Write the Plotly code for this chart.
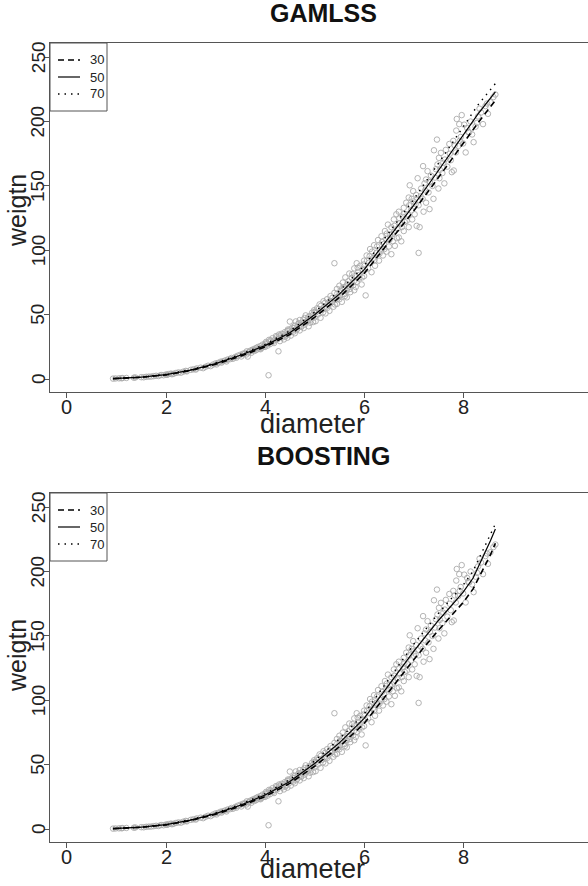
import plotly.graph_objects as go

# ---------------- data ----------------
diameter = [
    0.93, 0.98, 1.05, 1.10, 1.12, 1.20, 1.35, 1.38, 1.50, 1.55, 1.60, 1.65, 1.70, 1.75, 1.80, 1.85, 1.90, 1.95, 2.00, 2.02,
    2.05, 2.10, 2.12, 2.15, 2.20, 2.25, 2.30, 2.35, 2.40, 2.42, 2.50, 2.55, 2.60, 2.62, 2.70, 2.75, 2.80, 2.85, 2.90, 2.95, 3.00, 3.02,
    3.05, 3.10, 3.12, 3.15, 3.20, 3.22, 3.25, 3.30, 3.32, 3.35, 3.40, 3.42, 3.45, 3.50, 3.52, 3.55, 3.60, 3.62, 3.63, 3.65,
    3.68, 3.70, 3.72, 3.75, 3.78, 3.80, 3.82, 3.85, 3.88, 3.90, 3.92, 3.95, 3.97, 4.00, 4.00,
    4.02, 4.05, 4.07, 4.08, 4.10, 4.12, 4.15, 4.18, 4.20, 4.22, 4.25, 4.27, 4.28, 4.30, 4.33, 4.35, 4.38, 4.40, 4.42, 4.45,
    4.45, 4.48, 4.50, 4.50, 4.52, 4.55, 4.57, 4.60, 4.60, 4.62, 4.65, 4.67, 4.70, 4.70, 4.72, 4.75, 4.78, 4.80, 4.80, 4.82,
    4.85, 4.88, 4.90, 4.92, 4.95, 4.97, 5.00, 5.00,
    5.02, 5.05, 5.07, 5.10, 5.12, 5.15, 5.18, 5.20, 5.22, 5.25, 5.28, 5.30, 5.32, 5.35, 5.38, 5.40, 5.40, 5.42, 5.45, 5.45,
    5.48, 5.50, 5.50, 5.52, 5.55, 5.57, 5.60, 5.60, 5.62, 5.65, 5.65, 5.68, 5.70, 5.70, 5.72, 5.75, 5.78, 5.80, 5.80, 5.82,
    5.85, 5.85, 5.88, 5.90, 5.92, 5.95, 5.97, 6.00, 6.00, 6.03,
    6.05, 6.08, 6.10, 6.12, 6.15, 6.18, 6.20, 6.22, 6.25, 6.28, 6.30, 6.32, 6.35, 6.38, 6.40, 6.42, 6.45, 6.45, 6.48, 6.50,
    6.52, 6.55, 6.55, 6.58, 6.60, 6.60, 6.62, 6.65, 6.68, 6.70, 6.70, 6.72, 6.75, 6.78, 6.80, 6.80, 6.82, 6.85, 6.88, 6.90,
    6.90, 6.92, 6.95, 6.97, 6.99, 7.00,
    7.02, 7.05, 7.06, 7.08, 7.10, 7.10, 7.12, 7.15, 7.18, 7.19, 7.20, 7.22, 7.25, 7.25, 7.28, 7.30, 7.32, 7.35, 7.38, 7.40,
    7.41, 7.45, 7.47, 7.48, 7.50, 7.51, 7.52, 7.55, 7.58, 7.60, 7.62, 7.65, 7.68, 7.72, 7.75, 7.77, 7.80, 7.81, 7.85, 7.86,
    7.87, 7.90, 7.92, 7.95, 7.97, 8.00, 8.02, 8.05, 8.10, 8.12, 8.15, 8.21, 8.25, 8.30, 8.36, 8.40, 8.45, 8.50, 8.55, 8.61, 8.65,
    3.58, 3.66, 3.74, 3.83, 3.91, 3.99,
    4.03, 4.11, 4.16, 4.23, 4.31, 4.36, 4.41, 4.46, 4.53, 4.58, 4.63, 4.68, 4.73, 4.77, 4.83, 4.87, 4.91, 4.96, 4.99,
    5.03, 5.08, 5.13, 5.17, 5.21, 5.26, 5.31, 5.36, 5.41, 5.46, 5.51, 5.56, 5.61, 5.66, 5.71, 5.76, 5.79, 5.83, 5.87, 5.91, 5.96, 5.99,
    6.02, 6.06, 6.11, 6.16, 6.21, 6.26, 6.31, 6.36, 6.41, 6.46, 6.51, 6.56, 6.61, 6.66, 6.71, 6.76, 6.81, 6.86, 6.91, 6.96,
    7.04, 7.14, 7.23, 7.33, 7.43, 7.53, 7.63, 7.73, 7.83, 7.93, 8.08, 8.18, 8.28, 8.33, 8.48,
]
weight = [
    0.4, 0.5, 0.6, 0.7, 0.8, 0.9, 1.1, 1.3, 1.5, 1.4, 1.8, 1.9, 2.0, 2.3, 2.6, 2.4, 3.2, 3.0, 3.6, 3.3,
    3.9, 4.3, 3.8, 4.1, 4.8, 5.2, 5.0, 5.8, 6.4, 6.0, 7.2, 7.6, 7.4, 8.3, 8.9, 8.5, 9.6, 10.4, 10.1, 11.3, 12.2, 11.4,
    12.6, 13.5, 12.8, 13.9, 14.6, 13.7, 15.3, 15.6, 16.4, 15.8, 17.3, 16.6, 18.2, 18.9, 17.6, 19.7, 20.3, 19.1, 21.6, 17.5,
    21.0, 22.1, 20.4, 23.0, 21.8, 23.8, 22.5, 24.9, 23.5, 25.6, 24.0, 26.8, 25.1, 27.5, 25.0,
    28.9, 26.0, 3.0, 30.5, 27.2, 29.4, 31.8, 28.0, 30.6, 33.4, 31.0, 21.6, 34.6, 29.5, 35.2, 32.4, 30.8, 36.5, 34.0, 37.4,
    32.2, 35.5, 44.7, 38.6, 33.8, 40.0, 36.8, 41.5, 35.6, 44.8, 39.0, 42.6, 37.8, 45.9, 41.2, 44.0, 39.6, 47.5, 42.3, 49.5,
    45.0, 41.0, 49.0, 46.2, 51.6, 44.3, 52.2, 48.0,
    45.0, 55.0, 50.2, 58.0, 47.6, 53.8, 60.5, 56.0, 51.0, 62.0, 57.5, 53.0, 64.5, 59.8, 56.2, 90.0, 67.0, 61.5, 70.0, 58.4,
    64.0, 72.5, 62.0, 68.4, 60.0, 75.0, 66.0, 71.5, 79.0, 69.0, 63.5, 76.0, 82.0, 72.0, 67.5, 78.5, 73.0, 86.0, 69.0, 80.0,
    75.5, 90.0, 83.0, 78.0, 88.0, 73.5, 85.0, 92.0, 80.0, 65.0,
    96.0, 86.0, 90.5, 101.0, 83.0, 94.0, 104.0, 88.0, 98.0, 108.0, 92.0, 100.5, 111.0, 96.0, 105.0, 115.0, 99.0, 108.5, 120.0, 103.0,
    112.0, 118.0, 97.0, 107.0, 124.0, 114.0, 103.5, 128.0, 117.0, 110.0, 130.0, 121.0, 107.0, 126.0, 133.0, 115.0, 122.0, 137.0, 128.0, 141.0,
    118.0, 150.5, 131.0, 124.0, 146.0, 138.0,
    128.0, 143.0, 119.0, 156.0, 135.0, 98.0, 118.0, 148.0, 140.0, 165.4, 130.0, 152.0, 155.0, 137.0, 161.5, 145.0, 132.0, 158.0, 150.0, 140.0,
    177.7, 163.0, 186.0, 166.7, 148.0, 171.8, 156.0, 175.7, 160.0, 168.0, 152.0, 178.0, 165.0, 182.6, 170.0, 160.7, 185.0, 162.0, 176.0, 193.0,
    202.0, 181.0, 198.0, 188.0, 205.0, 183.0, 197.6, 176.0, 192.0, 191.6, 200.0, 184.0, 196.0, 204.0, 207.0, 198.0, 212.0, 206.0, 215.0, 219.0, 221.0,
    19.5, 20.8, 22.6, 24.2, 23.2, 26.2,
    27.8, 30.2, 29.0, 32.5, 33.8, 34.9, 33.1, 38.5, 37.2, 39.8, 38.0, 43.5, 40.5, 46.2, 44.6, 48.0, 43.8, 49.8, 53.5,
    52.0, 54.5, 57.0, 51.8, 59.2, 55.4, 60.8, 63.2, 58.0, 66.5, 65.0, 70.8, 64.5, 73.8, 70.0, 81.5, 76.0, 71.5, 86.5, 81.0, 79.0, 89.0,
    85.0, 92.0, 95.5, 99.0, 92.5, 103.0, 97.5, 106.5, 101.0, 113.0, 108.0, 112.5, 119.0, 109.5, 125.0, 118.0, 128.5, 123.0, 135.0, 140.0,
    136.0, 142.0, 146.5, 153.0, 156.5, 162.5, 170.5, 175.0, 181.5, 185.0, 195.0, 190.0, 199.0, 210.0, 214.0,
]

# fitted quantile curves
gam_diam = [0.93, 1.5, 2.0, 2.5, 3.0, 3.5, 4.0, 4.5, 5.0, 5.5, 6.0, 6.5, 7.0, 7.5, 8.0, 8.3, 8.65]
gam_q30 = [0.4, 1.4, 3.3, 6.7, 11.5, 17.8, 25.0, 34.6, 48.0, 63.5, 82.0, 106.0, 130.5, 156.5, 183.5, 199.0, 216.5]
gam_q50 = [0.4, 1.5, 3.5, 7.0, 12.0, 18.5, 26.0, 36.0, 50.0, 66.0, 85.0, 110.0, 135.0, 162.0, 190.0, 206.0, 223.0]
gam_q70 = [0.45, 1.6, 3.7, 7.3, 12.5, 19.2, 27.0, 37.4, 52.0, 68.5, 88.0, 114.0, 139.5, 167.5, 196.5, 213.0, 229.5]

boo_diam = [0.93, 1.5, 2.0, 2.5, 3.0, 3.5, 4.0, 4.5, 5.0, 5.5, 6.0, 6.5, 7.0, 7.5, 8.0, 8.2, 8.4, 8.55, 8.65]
boo_q30 = [0.4, 1.4, 3.3, 6.7, 11.5, 17.8, 25.3, 35.5, 48.8, 64.0, 82.0, 106.5, 131.5, 154.5, 176.0, 186.5, 201.0, 213.0, 222.0]
boo_q50 = [0.4, 1.5, 3.5, 7.0, 12.0, 18.5, 26.5, 37.0, 51.0, 67.0, 86.0, 112.0, 138.0, 162.0, 184.0, 195.0, 211.0, 224.0, 233.0]
boo_q70 = [0.45, 1.6, 3.7, 7.3, 12.5, 19.2, 27.5, 38.5, 53.0, 70.0, 89.5, 116.5, 143.5, 167.5, 189.5, 200.5, 216.5, 229.0, 237.0]

quant_labels = ["30", "50", "70"]
panel_titles = ["GAMLSS", "BOOSTING"]
x_ticks = [0, 2, 4, 6, 8]
y_ticks = [0, 50, 100, 150, 200, 250]

# ---------------- figure ----------------
W, H = 588, 886
L = 50
FONT = "Liberation Sans, Arial, Helvetica, sans-serif"
AXC = "#555555"
TXT = "#222222"
dashes = ["6px,4px", "solid", "1.5px,5px"]
widths = [1.6, 1.2, 1.4]

def pxx(p):
    return (p - L) / (W - L)

def pxy(p):
    return 1 - p / H

OFF = 450  # vertical offset of the second panel's axes (px)

fig = go.Figure()
panels = [
    ("x", "y", gam_diam, [gam_q30, gam_q50, gam_q70]),
    ("x2", "y2", boo_diam, [boo_q30, boo_q50, boo_q70]),
]
for xa, ya, cd, qs in panels:
    fig.add_trace(go.Scatter(
        x=diameter, y=weight, mode="markers", xaxis=xa, yaxis=ya, showlegend=False,
        marker=dict(symbol="circle-open", size=5.5, color="#aaaaaa", line=dict(width=0.9)),
        hoverinfo="skip"))
    for lab, q, d, w in zip(quant_labels, qs, dashes, widths):
        fig.add_trace(go.Scatter(
            x=cd, y=q, mode="lines", name=lab, xaxis=xa, yaxis=ya, showlegend=False,
            line=dict(color="black", width=w, dash=d)))

top_dom = [pxy(392), pxy(43)]
bot_dom = [pxy(392 + OFF), pxy(43 + OFF)]

xcommon = dict(range=[-0.343, 10.52], tickvals=x_ticks, showticklabels=False, showline=True,
               linecolor=AXC, linewidth=1, mirror=True, ticks="outside", ticklen=5, tickcolor=AXC,
               showgrid=False, zeroline=False, automargin=False)
ycommon = dict(range=[-10, 261], tickvals=y_ticks, showticklabels=False, showline=True,
               linecolor=AXC, linewidth=1, mirror=False, ticks="outside", ticklen=5, tickcolor=AXC,
               showgrid=False, zeroline=False, automargin=False)

fig.update_layout(
    width=W, height=H, margin=dict(l=L, r=0, t=0, b=0, autoexpand=False),
    paper_bgcolor="white", plot_bgcolor="white", showlegend=False,
    font=dict(family=FONT, color=TXT),
    xaxis=dict(domain=[0, 1], anchor="y", **xcommon),
    yaxis=dict(domain=top_dom, anchor="x", **ycommon),
    xaxis2=dict(domain=[0, 1], anchor="y2", **xcommon),
    yaxis2=dict(domain=bot_dom, anchor="x2", **ycommon),
)

shapes = []
for k, (xr, yr) in enumerate([("x", "y"), ("x2", "y2")]):
    oy = k * OFF
    # tick labels
    for t in x_ticks:
        fig.add_annotation(text=str(t), xref=xr, yref="paper", x=t, y=pxy(407 + oy),
                           showarrow=False, xanchor="center", yanchor="middle",
                           font=dict(family=FONT, size=20, color=TXT))
    for t in y_ticks:
        fig.add_annotation(text=str(t), xref="paper", yref=yr, x=pxx(38), y=t,
                           showarrow=False, xanchor="center", yanchor="middle", textangle=-90,
                           font=dict(family=FONT, size=19, color=TXT))
    # legend box, line samples, labels
    shapes.append(dict(type="rect", xref="paper", yref="paper",
                       x0=pxx(50), x1=pxx(107), y0=pxy(111 + oy), y1=pxy(43 + oy),
                       line=dict(color=AXC, width=1), fillcolor="white", layer="above"))
    for i, (lab, d, w) in enumerate(zip(quant_labels, dashes, widths)):
        ry = 60 + 17 * i + oy
        shapes.append(dict(type="line", xref="paper", yref="paper",
                           x0=pxx(58), x1=pxx(80), y0=pxy(ry), y1=pxy(ry),
                           line=dict(color="black", width=w, dash=d), layer="above"))
        fig.add_annotation(text=lab, xref="paper", yref="paper", x=pxx(88), y=pxy(ry),
                           showarrow=False, xanchor="left", yanchor="middle",
                           font=dict(family=FONT, size=13, color=TXT))
fig.update_layout(shapes=shapes)

# titles and axis labels
for title, ty, dy, wy in [(panel_titles[0], 13, 424, 211), (panel_titles[1], 456, 869, 656)]:
    fig.add_annotation(text=title, xref="paper", yref="paper", x=pxx(323), y=pxy(ty),
                       showarrow=False, xanchor="center", yanchor="middle",
                       font=dict(family=FONT, size=25, color="#111", weight="bold"))
    fig.add_annotation(text="diameter", xref="paper", yref="paper", x=pxx(312), y=pxy(dy),
                       showarrow=False, xanchor="center", yanchor="middle",
                       font=dict(family=FONT, size=27, color=TXT))
    fig.add_annotation(text="weigtn", xref="paper", yref="paper", x=pxx(17), y=pxy(wy),
                       showarrow=False, xanchor="center", yanchor="middle", textangle=-90,
                       font=dict(family=FONT, size=25, color=TXT))

fig.write_html("out.html", config={"displayModeBar": False},
               post_script="document.body.style.margin='0';document.body.style.overflow='hidden';")
